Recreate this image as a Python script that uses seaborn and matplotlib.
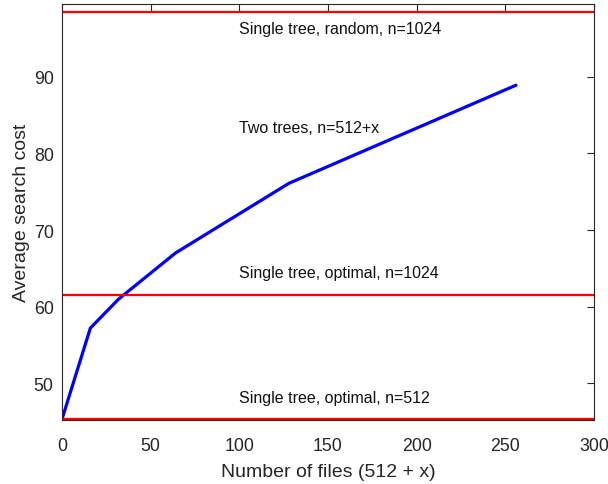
import matplotlib
matplotlib.use("Agg")
import matplotlib.pyplot as plt
import seaborn as sns
import pandas as pd

# Data
files_x = [0, 16, 32, 64, 128, 256]
two_trees_cost = [45.3, 57.2, 61.0, 67.0, 76.1, 88.9]
ref_levels = [98.5, 61.5, 45.3]
ref_labels = ["Single tree, random, n=1024", "Single tree, optimal, n=1024", "Single tree, optimal, n=512"]
ref_label_y = [96.3, 64.4, 48.2]
curve_label = "Two trees, n=512+x"
curve_label_y = [83.4]
label_x = 100
x_ticks = [0, 50, 100, 150, 200, 250, 300]
y_ticks = [50, 60, 70, 80, 90]

sns.set_theme(style="white")
plt.rcParams['font.family'] = ['Liberation Sans', 'DejaVu Sans']

fig = plt.figure(figsize=(6.08, 4.85), dpi=100)
ax = fig.add_axes([62/608, 1-421/485, (594-62)/608, (421-5)/485])

df = pd.DataFrame({"x": files_x, "cost": two_trees_cost})
sns.lineplot(data=df, x="x", y="cost", ax=ax, color="#0000ff", linewidth=2.3)
for lvl in ref_levels:
    ax.axhline(lvl, color="#ff0000", linewidth=1.6)

for txt, yy in zip(ref_labels, ref_label_y):
    ax.text(label_x, yy, txt, fontsize=11.5, color="#111111", va="center", ha="left")
ax.text(label_x, curve_label_y[0], curve_label, fontsize=11.5, color="#111111", va="center", ha="left")

ax.set_xlim(0, 300)
ax.set_ylim(45.2, 99.5)
ax.set_xticks(x_ticks)
ax.set_yticks(y_ticks)
ax.set_xlabel("Number of files (512 + x)", fontsize=14, color="#262626", labelpad=7)
ax.set_ylabel("Average search cost", fontsize=14, color="#262626", labelpad=3)
ax.tick_params(axis="x", pad=12)
ax.tick_params(axis="y", pad=6)
ax.tick_params(direction="in", top=True, right=True, length=5, width=0.8,
               labelsize=12.8, colors="#262626")
for s in ax.spines.values():
    s.set_color("#262626")
    s.set_linewidth(0.8)

fig.savefig("out.png", dpi=100)
